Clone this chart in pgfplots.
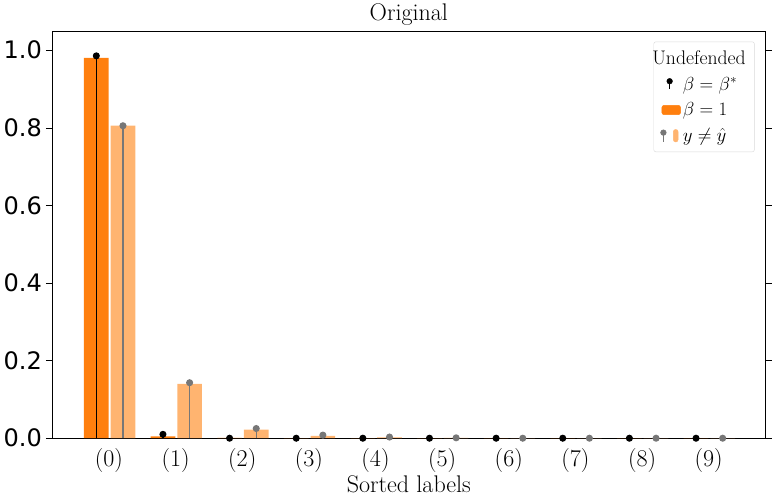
\documentclass[border=0pt]{standalone}
\usepackage{pgfplots}
\pgfplotsset{compat=1.18}
\usepackage{fontspec}
\newfontfamily\dv{DejaVu Sans}
\definecolor{dor}{HTML}{FF7F0E}
\definecolor{lor}{HTML}{FFB470}
\definecolor{gr}{HTML}{777777}
\begin{document}
\begin{tikzpicture}
\begin{axis}[scale only axis, width=652pt, height=372pt,
 xmin=-0.85, xmax=9.85, ymin=0, ymax=1.048,
 xtick={0,...,9}, xticklabels={(0),(1),(2),(3),(4),(5),(6),(7),(8),(9)},
 x tick label style={font=\fontsize{22}{26}\selectfont},
 ytick={0,0.2,0.4,0.6,0.8,1.0},
 yticklabel style={font=\fontsize{22}{26}\selectfont\dv},
 yticklabel={\pgfmathprintnumber[assume math mode=true,fixed,fixed zerofill,precision=1]{\tick}},
 xtick style={draw=none}, tick align=outside, major tick length=6pt, ytick style={black},
 title={Original}, title style={font=\fontsize{22}{26}\selectfont, yshift=-4pt},
 xlabel={Sorted labels}, xlabel style={font=\fontsize{22}{26}\selectfont, yshift=4pt},
 axis line style={black, line width=0.8pt},
 legend style={at={(0.985,0.975)}, anchor=north east, font=\fontsize{18}{24}\selectfont, draw=black!15, rounded corners=2pt, row sep=6pt, inner sep=6pt},
 legend cell align=left,
]
\addlegendimage{empty legend}
\addlegendentry{\hspace{-28pt}Undefended}
\addlegendimage{legend image code/.code={\draw[black,line width=1.2pt] (0.3cm,-0.15cm)--(0.3cm,0.1cm); \fill[black] (0.3cm,0.1cm) circle (2.6pt);}}
\addlegendentry{$\beta=\beta^*$}
\addlegendimage{legend image code/.code={\fill[dor] (0.05cm,-0.15cm) rectangle (0.65cm,0.15cm);}}
\addlegendentry{$\beta=1$}
\addlegendimage{legend image code/.code={\draw[gr,line width=1.2pt] (0.1cm,-0.2cm)--(0.1cm,0.1cm); \fill[gr] (0.1cm,0.1cm) circle (2.6pt); \fill[lor] (0.42cm,-0.2cm) rectangle (0.57cm,0.2cm);}}
\addlegendentry{$y\neq\hat y$}
\addplot[ybar, bar width=0.37, fill=dor, draw=none, bar shift=0, forget plot] coordinates {(-0.19,0.98) (0.81,0.005) (1.81,0.001) (2.81,0) (3.81,0) (4.81,0) (5.81,0) (6.81,0) (7.81,0) (8.81,0)};
\addplot[ybar, bar width=0.37, fill=lor, draw=none, bar shift=0, forget plot] coordinates {(0.21,0.805) (1.21,0.14) (2.21,0.022) (3.21,0.006) (4.21,0.002) (5.21,0.001) (6.21,0) (7.21,0) (8.21,0) (9.21,0)};
\addplot[ycomb, black, line width=1.2pt, mark=*, mark size=2.6pt, forget plot] coordinates {(-0.19,0.985) (0.81,0.01) (1.81,0) (2.81,0) (3.81,0) (4.81,0) (5.81,0) (6.81,0) (7.81,0) (8.81,0)};
\addplot[ycomb, gr, line width=1.2pt, mark=*, mark size=2.6pt, forget plot] coordinates {(0.21,0.805) (1.21,0.143) (2.21,0.025) (3.21,0.008) (4.21,0.003) (5.21,0.001) (6.21,0) (7.21,0) (8.21,0) (9.21,0)};
\end{axis}
\end{tikzpicture}
\end{document}
